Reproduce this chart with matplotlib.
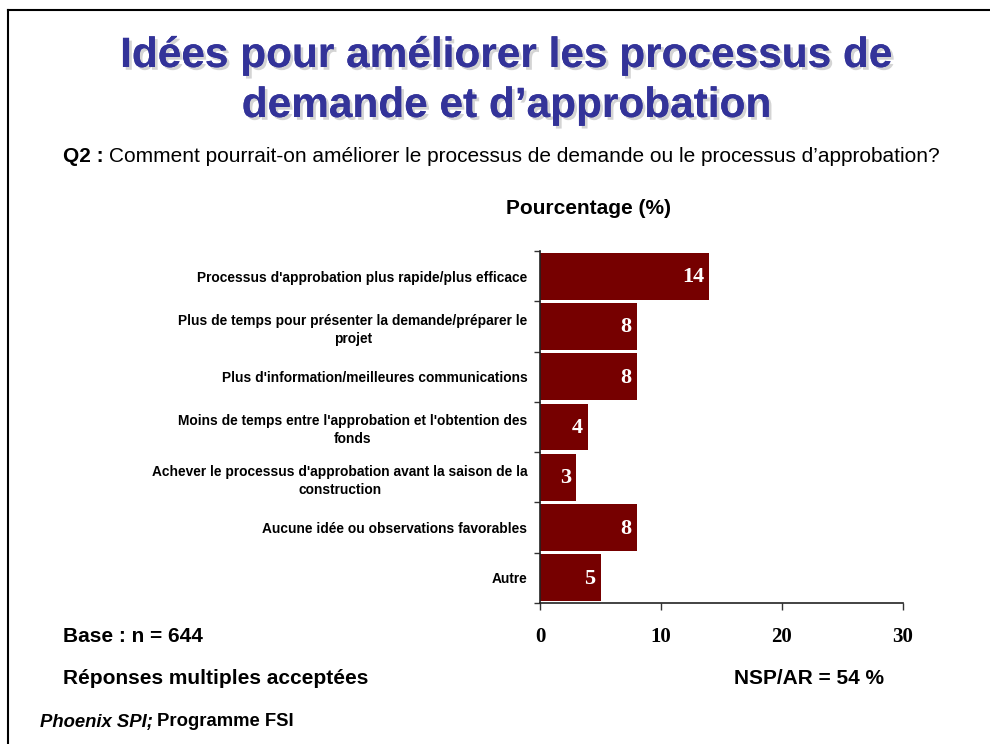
import matplotlib
matplotlib.use('Agg')
import matplotlib.pyplot as plt
import matplotlib.patheffects as pe
from matplotlib.lines import Line2D

# Données
categories = [
    "Processus d'approbation plus rapide/plus efficace",
    "Plus de temps pour présenter la demande/préparer le\nprojet",
    "Plus d'information/meilleures communications",
    "Moins de temps entre l'approbation et l'obtention des\nfonds",
    "Achever le processus d'approbation avant la saison de la\nconstruction",
    "Aucune idée ou observations favorables",
    "Autre",
]
valeurs = [14, 8, 8, 4, 3, 8, 5]
xticks = [0, 10, 20, 30]

rouge = '#760000'
bleu = '#333399'
sans = 'Liberation Sans'
serif = 'Liberation Serif'

fig = plt.figure(figsize=(9.9, 7.44), dpi=100)
fig.patch.set_facecolor('white')

# cadre (haut et gauche)
fig.add_artist(Line2D([8/990, 1], [1 - 10/744, 1 - 10/744], color='black', lw=1.5))
fig.add_artist(Line2D([8/990, 8/990], [0, 1 - 10/744], color='black', lw=1.5))

ax = fig.add_axes([540/990, 1 - 603/744, 363/990, 352/744])
pos = list(range(len(categories)))
ax.barh(pos, valeurs, height=0.93, color=rouge)
for p, v in zip(pos, valeurs):
    ax.text(v - 0.45, p + 0.02, str(v), ha='right', va='center', color='white',
            fontsize=16, fontweight='bold', family=serif)

ax.set_ylim(len(categories) - 0.5, -0.5)
ax.set_xlim(0, 30)
ax.set_yticks([p - 0.5 for p in pos] + [len(categories) - 0.5])
ax.set_yticklabels([])
ax.set_yticks(pos, minor=True)
ax.set_yticklabels(categories, minor=True, fontsize=9.9, fontweight='bold',
                   family=sans, multialignment='center', linespacing=1.35)
ax.tick_params(axis='y', which='minor', length=0, pad=9)
ax.tick_params(axis='y', which='major', length=4, width=1, color='#333333')
ax.set_xticks(xticks)
ax.set_xticklabels([str(t) for t in xticks], fontsize=15, fontweight='bold', family=serif)
ax.tick_params(axis='x', length=5, width=1, pad=12, color='#333333')
for s in ['top', 'right']:
    ax.spines[s].set_visible(False)
for s in ['left', 'bottom']:
    ax.spines[s].set_color('#222222')
    ax.spines[s].set_linewidth(1.2)

# Titre
ombre = [pe.withSimplePatchShadow(offset=(2, -2), shadow_rgbFace='#aaaaaa', alpha=0.5), pe.Normal()]
fig.text(507/990, 1 - 56/744, "Idées pour améliorer les processus de", ha='center', va='center',
         fontsize=30.5, fontweight='bold', family=sans, color=bleu, path_effects=ombre)
fig.text(507/990, 1 - 106/744, "demande et d\u2019approbation", ha='center', va='center',
         fontsize=30.5, fontweight='bold', family=sans, color=bleu, path_effects=ombre)

# Question
q = fig.text(63/990, 1 - 157/744, "Q2 :", ha='left', va='center', fontsize=15,
             fontweight='bold', family=sans)
fig.canvas.draw()
bb = q.get_window_extent()
fig.text((bb.x1 + 5) / 990, 1 - 157/744,
         "Comment pourrait-on améliorer le processus de demande ou le processus d\u2019approbation?",
         ha='left', va='center', fontsize=15, family=sans)

fig.text(588/990, 1 - 209/744, "Pourcentage (%)", ha='center', va='center', fontsize=15,
         fontweight='bold', family=sans)

fig.text(63/990, 1 - 637/744, "Base : n = 644", ha='left', va='center', fontsize=15,
         fontweight='bold', family=sans)
fig.text(63/990, 1 - 678/744, "Réponses multiples acceptées", ha='left', va='center',
         fontsize=15, fontweight='bold', family=sans)
fig.text(884/990, 1 - 678/744, "NSP/AR = 54 %", ha='right', va='center', fontsize=15,
         fontweight='bold', family=sans)

s = fig.text(40/990, 1 - 722/744, "Phoenix SPI;", ha='left', va='center', fontsize=13.3,
             fontweight='bold', style='italic', family=sans)
fig.canvas.draw()
bb = s.get_window_extent()
fig.text((bb.x1 + 4) / 990, 1 - 722/744, "Programme FSI", ha='left', va='center',
         fontsize=13.3, fontweight='bold', family=sans)

fig.savefig('out.png', dpi=100)
